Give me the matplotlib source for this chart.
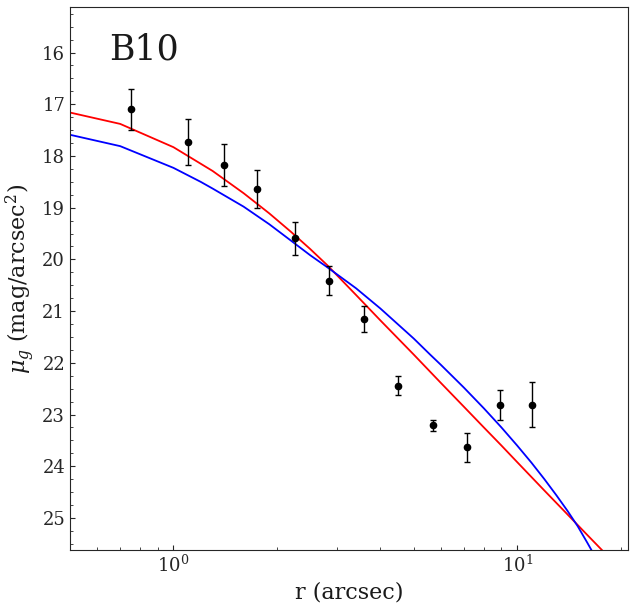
import numpy as np
import matplotlib.pyplot as plt
from matplotlib.ticker import MultipleLocator

plt.rcParams['font.family'] = 'DejaVu Serif'
plt.rcParams['mathtext.fontset'] = 'dejavuserif'

# Observed surface brightness profile
r_obs = [0.75, 1.10, 1.40, 1.75, 2.25, 2.84, 3.59, 4.51, 5.70, 7.16, 8.93, 11.06]
mu_obs = [17.10, 17.73, 18.18, 18.64, 19.59, 20.41, 21.15, 22.44, 23.21, 23.63, 22.81, 22.81]
mu_err = [0.39, 0.45, 0.41, 0.36, 0.32, 0.28, 0.25, 0.18, 0.10, 0.28, 0.29, 0.44]

# Model curves
r_red = [0.5, 0.7, 1.0, 1.3, 1.6, 1.9, 2.2, 2.5, 2.8, 3.4, 4.0, 5.0, 6.0, 7.0,
         8.0, 9.0, 10.0, 12.0, 14.0, 16.0, 18.0]
mu_red = [17.16, 17.38, 17.83, 18.29, 18.72, 19.11, 19.47, 19.80, 20.11, 20.69,
          21.18, 21.84, 22.39, 22.85, 23.25, 23.60, 23.92, 24.47, 24.93, 25.33, 25.68]

r_blue = [0.5, 0.7, 1.0, 1.2, 1.3, 1.6, 1.9, 2.2, 2.5, 2.8, 3.4, 4.0, 5.0, 5.58, 6.0,
          7.0, 8.0, 9.0, 10.0, 11.0, 12.0, 13.0, 14.0, 15.0, 16.0, 17.0]
mu_blue = [17.59, 17.81, 18.23, 18.50, 18.63, 18.98, 19.32, 19.64, 19.92, 20.15,
           20.56, 20.95, 21.53, 21.84, 22.04, 22.48, 22.88, 23.25, 23.60, 23.93,
           24.25, 24.56, 24.86, 25.16, 25.48, 25.79]

fig = plt.figure(figsize=(6.34, 6.08), dpi=100)
ax = fig.add_axes([0.1104, 0.0954, 0.88, 0.893])

ax.plot(r_red, mu_red, color='red', lw=1.3, zorder=2)
ax.plot(r_blue, mu_blue, color='blue', lw=1.3, zorder=2)
ax.errorbar(r_obs, mu_obs, yerr=mu_err, fmt='o', color='black', ms=4.5,
            elinewidth=1, capsize=2, capthick=1, zorder=3)

ax.set_xscale('log')
ax.set_xlim(0.5, 21)
ax.set_ylim(25.62, 15.12)
ax.yaxis.set_major_locator(MultipleLocator(1))
ax.yaxis.set_minor_locator(MultipleLocator(0.25))
ax.tick_params(which='both', direction='in', labelsize=13, colors='0.15')
for s in ax.spines.values():
    s.set_color('0.15')

ax.set_xlabel('r (arcsec)', fontsize=16, color='0.1')
ax.set_ylabel(r'$\mu_g$ (mag/arcsec$^2$)', fontsize=16, color='0.1')
ax.text(0.07, 0.904, 'B10', transform=ax.transAxes, fontsize=25, color='0.1')

fig.savefig('out.png', dpi=100)
